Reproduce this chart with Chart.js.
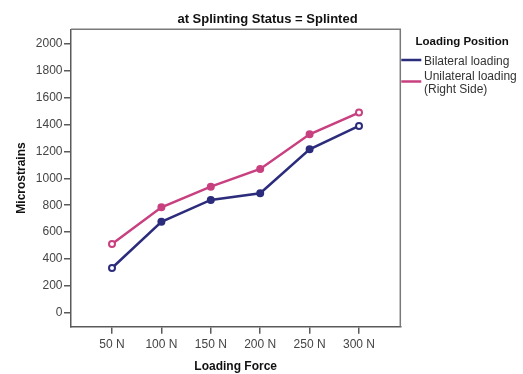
<!DOCTYPE html>
<html>
<head>
<meta charset="utf-8">
<script src="https://cdn.jsdelivr.net/npm/chart.js@4/dist/chart.umd.min.js"></script>
<style>
  html, body { margin: 0; padding: 0; background: #fff; }
  #wrap { width: 523px; height: 374px; }
</style>
</head>
<body>
<div id="wrap"><canvas id="myChart" width="523" height="374"></canvas></div>
<script>
// loading force (N) on the x axis
const loads = [50, 100, 150, 200, 250, 300];
// microstrains per loading position
const bilateral = [333, 677, 839, 889, 1216, 1390];
const unilateral = [511, 784, 938, 1070, 1328, 1489];
const seriesNames = [['Bilateral loading'], ['Unilateral loading', '(Right Side)']];
const seriesColors = ['#2c2c7c', '#c8407f'];
const yTicks = [0, 200, 400, 600, 800, 1000, 1200, 1400, 1600, 1800, 2000];

const FONT = 'Arial, "Liberation Sans", sans-serif';

const toPoints = (vals) => vals.map((v, i) => ({ x: loads[i], y: v }));
// first and last markers are hollow
const markerFill = (color) => loads.map((_, i) => (i === 0 || i === loads.length - 1 ? '#ffffff' : color));

const makeSet = (vals, k) => ({
  label: seriesNames[k].join(' '),
  data: toPoints(vals),
  borderColor: seriesColors[k],
  backgroundColor: markerFill(seriesColors[k]),
  pointBorderColor: seriesColors[k],
  pointBackgroundColor: markerFill(seriesColors[k]),
  borderWidth: 2.5,
  pointRadius: 3,
  pointBorderWidth: 2,
  tension: 0,
  clip: false,
});

// box around the plot area (top and right edges)
const frame = {
  id: 'frame',
  beforeDatasetsDraw(chart) {
    const { ctx, chartArea: a } = chart;
    ctx.save();
    ctx.strokeStyle = '#7a7a7a';
    ctx.lineWidth = 1.5;
    ctx.beginPath();
    ctx.moveTo(a.left, a.top);
    ctx.lineTo(a.right, a.top);
    ctx.lineTo(a.right, a.bottom);
    ctx.stroke();
    ctx.restore();
  },
};

// panel heading over the whole figure
const heading = {
  id: 'heading',
  afterDraw(chart) {
    const { ctx } = chart;
    ctx.save();
    ctx.textBaseline = 'middle';
    ctx.textAlign = 'center';
    ctx.fillStyle = '#111';
    ctx.font = 'bold 13px ' + FONT;
    ctx.fillText('at Splinting Status = Splinted', 267.5, 19);
    ctx.restore();
  },
};

// legend at the right side with a bold heading
const sideLegend = {
  id: 'sideLegend',
  afterDraw(chart) {
    const { ctx, chartArea: a } = chart;
    const x0 = a.right;
    ctx.save();
    ctx.textBaseline = 'middle';
    ctx.textAlign = 'left';
    ctx.fillStyle = '#111';
    ctx.font = 'bold 11.5px ' + FONT;
    ctx.fillText('Loading Position', 415.5, 42);
    ctx.font = '12px ' + FONT;
    ctx.fillStyle = '#333';
    let y = 62;
    chart.data.datasets.forEach((ds, k) => {
      const lines = seriesNames[k];
      const mid = y + (lines.length - 1) * 13 / 2;
      ctx.strokeStyle = ds.borderColor;
      ctx.lineWidth = 2.5;
      ctx.beginPath();
      ctx.moveTo(x0 + 1, mid - 2);
      ctx.lineTo(x0 + 21, mid - 2);
      ctx.stroke();
      lines.forEach((t, j) => ctx.fillText(t, 424, y + j * 13));
      y += lines.length * 13 + 2;
    });
    ctx.restore();
  },
};

const ctx = document.getElementById('myChart').getContext('2d');
const myChart = new Chart(ctx, {
  type: 'line',
  data: {
    datasets: [makeSet(bilateral, 0), makeSet(unilateral, 1)],
  },
  options: {
    responsive: false,
    animation: false,
    devicePixelRatio: 1,
    layout: { padding: { left: 12, right: 122.7, top: 29.3, bottom: 0 } },
    plugins: {
      legend: { display: false },
      tooltip: { enabled: false },
      title: { display: false },
    },
    scales: {
      x: {
        type: 'linear',
        min: 8.5,
        max: 341.8,
        afterFit: (s) => { s.height = 47.3; },
        afterBuildTicks: (s) => { s.ticks = loads.map((v) => ({ value: v })); },
        ticks: {
          callback: (v) => v + ' N',
          color: '#444',
          font: { family: FONT, size: 12 },
          padding: 3.5,
          maxRotation: 0,
        },
        grid: { drawOnChartArea: false, drawTicks: true, tickLength: 7, color: '#5a5a5a', lineWidth: 1.5 },
        border: { display: true, color: '#5a5a5a', width: 1.5 },
        title: {
          display: true,
          text: 'Loading Force',
          color: '#111',
          font: { family: FONT, size: 12, weight: 'bold' },
          padding: { top: 0, bottom: 0.3 },
        },
      },
      y: {
        min: -104,
        max: 2109,
        afterFit: (s) => { s.width = 59; },
        afterBuildTicks: (s) => { s.ticks = yTicks.map((v) => ({ value: v })); },
        ticks: {
          callback: (v) => String(v),
          color: '#444',
          font: { family: FONT, size: 12 },
          padding: 1.5,
        },
        grid: { drawOnChartArea: false, drawTicks: true, tickLength: 7, color: '#5a5a5a', lineWidth: 1.5 },
        border: { display: true, color: '#5a5a5a', width: 1.5 },
        title: {
          display: true,
          text: 'Microstrains',
          color: '#111',
          font: { family: FONT, size: 12, weight: 'bold' },
          padding: { top: 2.8, bottom: 0 },
        },
      },
    },
  },
  plugins: [frame, heading, sideLegend],
});
</script>
</body>
</html>
